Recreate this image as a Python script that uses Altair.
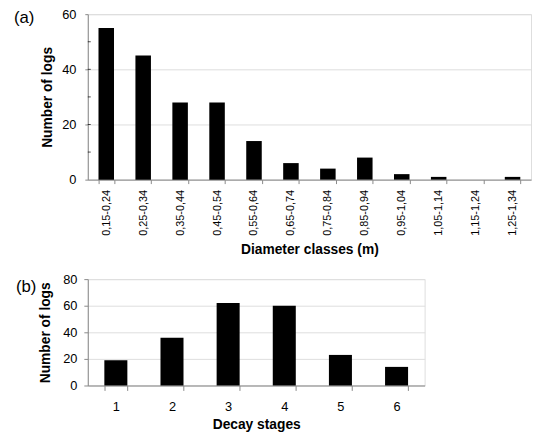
import altair as alt
import pandas as pd

diam_classes = ["0,15-0,24", "0,25-0,34", "0,35-0,44", "0,45-0,54", "0,55-0,64", "0,65-0,74",
                "0,75-0,84", "0,85-0,94", "0,95-1,04", "1,05-1,14", "1,15-1,24", "1,25-1,34"]
diam_counts = [55, 45, 28, 28, 14, 6, 4, 8, 2, 1, 0, 1]
diam_yticks = [0, 10, 20, 30, 40, 50, 60]

decay_stages = ["1", "2", "3", "4", "5", "6"]
decay_counts = [19, 36, 62, 60, 23, 14]
decay_yticks = [0, 20, 40, 60, 80]

FONT = "Liberation Sans"

dfa = pd.DataFrame({"cls": diam_classes, "n": diam_counts})
dfb = pd.DataFrame({"stage": decay_stages, "n": decay_counts})

bars_a = alt.Chart(dfa).mark_bar(color="black").encode(
    x=alt.X("cls:N", sort=diam_classes,
            scale=alt.Scale(paddingInner=0.58, paddingOuter=0.29),
            axis=alt.Axis(title="Diameter classes (m)", labelAngle=-90, labelFontSize=11,
                          tickBand="extent", tickSize=4, labelPadding=6, titlePadding=7,
                          titleFontSize=14)),
    y=alt.Y("n:Q", scale=alt.Scale(domain=[0, 60]),
            axis=alt.Axis(title="Number of logs", values=diam_yticks, labelFontSize=13,
                          tickSize=3, labelPadding=9, titlePadding=7, titleFontSize=14)),
)
inner_a = alt.Chart(pd.DataFrame({"v": diam_yticks[1:-1]})).mark_tick(
    color="black", thickness=1, size=3
).encode(y="v:Q", x=alt.value(1.5))
lab_a = alt.Chart(pd.DataFrame({"t": ["(a)"]})).mark_text(
    font=FONT, fontSize=17, align="left", baseline="middle", color="black"
).encode(text="t:N", x=alt.value(-75), y=alt.value(3.5))

panel_a = alt.layer(bars_a, inner_a, lab_a).properties(width=450, height=168)

bars_b = alt.Chart(dfb).mark_bar(color="black").encode(
    x=alt.X("stage:N", sort=decay_stages,
            scale=alt.Scale(paddingInner=0.59, paddingOuter=0.295),
            axis=alt.Axis(title="Decay stages", labelAngle=0, labelFontSize=13,
                          tickBand="extent", tickSize=5, labelPadding=10, titlePadding=5,
                          titleFontSize=14)),
    y=alt.Y("n:Q", scale=alt.Scale(domain=[0, 80]),
            axis=alt.Axis(title="Number of logs", values=decay_yticks, labelFontSize=13,
                          tickSize=4, labelPadding=7, titlePadding=10, titleFontSize=14)),
)
lab_b = alt.Chart(pd.DataFrame({"t": ["(b)"]})).mark_text(
    font=FONT, fontSize=17, align="left", baseline="middle", color="black"
).encode(text="t:N", x=alt.value(-73), y=alt.value(8.5))

panel_b = alt.layer(bars_b, lab_b).properties(width=342, height=108)

chart = alt.vconcat(panel_a, panel_b, spacing=16).properties(
    padding={"left": 5, "top": -4, "right": 0, "bottom": 0}
).configure_view(
    stroke="black", strokeWidth=1
).configure_axis(
    grid=False, domainColor="black", tickColor="black", labelColor="black",
    titleColor="black", labelFont=FONT, titleFont=FONT,
    titleFontWeight="bold"
).configure(background="white")

chart.save("out.html", embed_options={"renderer": "svg", "actions": False})
